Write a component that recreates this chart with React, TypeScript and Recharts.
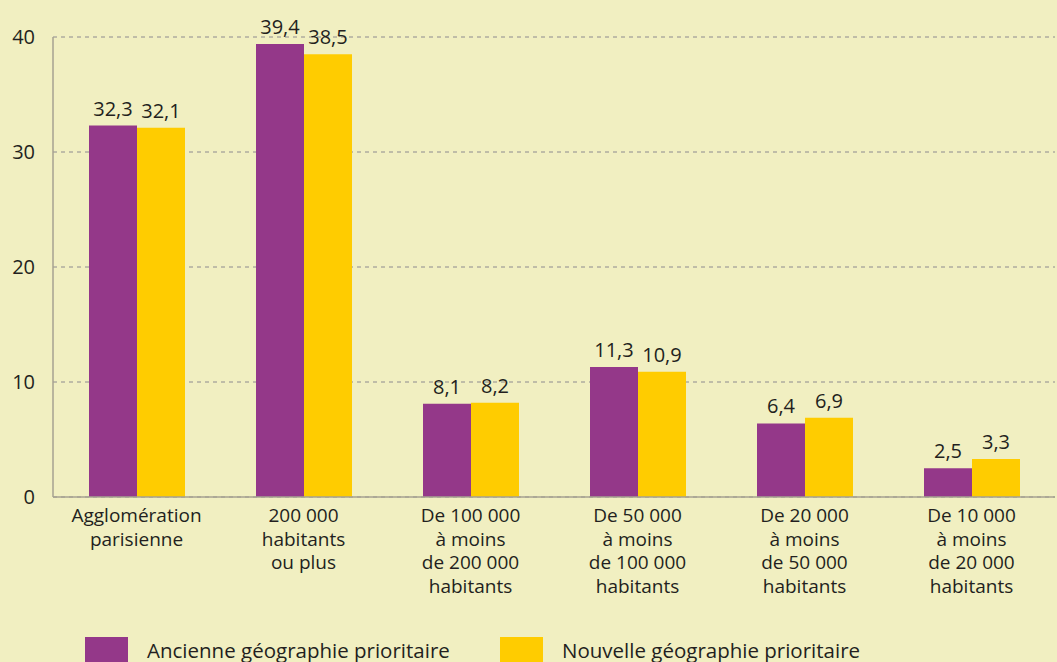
import { BarChart, Bar, XAxis, YAxis, CartesianGrid, LabelList } from 'recharts';

const categories = [
  'Agglomération\nparisienne',
  '200 000\nhabitants\nou plus',
  'De 100 000\nà moins\nde 200 000\nhabitants',
  'De 50 000\nà moins\nde 100 000\nhabitants',
  'De 20 000\nà moins\nde 50 000\nhabitants',
  'De 10 000\nà moins\nde 20 000\nhabitants'
];
const ancienne = [32.3, 39.4, 8.1, 11.3, 6.4, 2.5];
const nouvelle = [32.1, 38.5, 8.2, 10.9, 6.9, 3.3];
const yTicks = [0, 10, 20, 30, 40];

const PURPLE = '#943889';
const YELLOW = '#ffcc00';
const BG = '#f1efc1';
const TEXT = '#231f20';
const FONT = '"Open Sans", Roboto, sans-serif';

const data = categories.map((cat, i) => ({ cat, ancienne: ancienne[i], nouvelle: nouvelle[i] }));

const fmt = (v: any) => String(v).replace('.', ',');

const CatTick = ({ x, y, payload }: any) => {
  const lines = String(payload.value).split('\n');
  return (
    <text x={x} y={y} textAnchor="middle" fill={TEXT} fontSize={19} fontFamily={FONT}>
      {lines.map((l, i) => (
        <tspan key={i} x={x} dy={i === 0 ? 20 : 23.5}>
          {l}
        </tspan>
      ))}
    </text>
  );
};

export default function App() {
  return (
    <div style={{ position: 'absolute', left: 0, top: 0, width: 1057, height: 662, background: BG, overflow: 'hidden', fontFamily: FONT }}>
      <BarChart
        width={1057}
        height={662}
        data={data}
        margin={{ top: 37, right: 2, left: 0, bottom: 0 }}
        barGap={0}
        barSize={48}
      >
        <CartesianGrid vertical={false} stroke="#8d8a8e" strokeDasharray="4 4" />
        <YAxis
          domain={[0, 40]}
          ticks={yTicks}
          width={53}
          tickLine={false}
          tickSize={0}
          tickMargin={18}
          axisLine={{ stroke: '#a6a290', strokeWidth: 1.5 }}
          tick={{ fill: TEXT, fontSize: 20, fontFamily: FONT }}
        />
        <XAxis
          dataKey="cat"
          interval={0}
          height={165}
          tickLine={false}
          tickSize={0}
          tickMargin={5}
          axisLine={{ stroke: '#a6a290', strokeWidth: 1.5 }}
          tick={<CatTick />}
        />
        <Bar dataKey="ancienne" fill={PURPLE} isAnimationActive={false}>
          <LabelList dataKey="ancienne" position="top" offset={10} formatter={fmt} fill={TEXT} fontSize={20} fontFamily={FONT} />
        </Bar>
        <Bar dataKey="nouvelle" fill={YELLOW} isAnimationActive={false}>
          <LabelList dataKey="nouvelle" position="top" offset={10} formatter={fmt} fill={TEXT} fontSize={20} fontFamily={FONT} />
        </Bar>
      </BarChart>
      <div style={{ position: 'absolute', left: 85, top: 637, display: 'flex', alignItems: 'center', color: TEXT, fontSize: 20.5, lineHeight: '22px' }}>
        <span style={{ width: 43, height: 25, background: PURPLE, display: 'inline-block' }} />
        <span style={{ marginLeft: 19 }}>Ancienne géographie prioritaire</span>
      </div>
      <div style={{ position: 'absolute', left: 500, top: 637, display: 'flex', alignItems: 'center', color: TEXT, fontSize: 20.5, lineHeight: '22px' }}>
        <span style={{ width: 43, height: 25, background: YELLOW, display: 'inline-block' }} />
        <span style={{ marginLeft: 19 }}>Nouvelle géographie prioritaire</span>
      </div>
    </div>
  );
}
